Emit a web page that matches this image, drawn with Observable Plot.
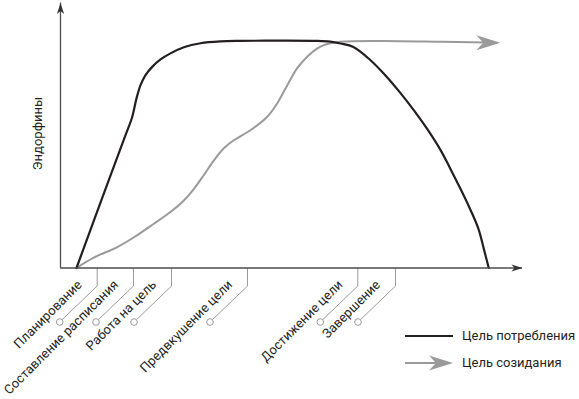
<!DOCTYPE html>
<html><head><meta charset="utf-8">
<script src="https://cdn.jsdelivr.net/npm/d3@7"></script>
<script src="https://cdn.jsdelivr.net/npm/@observablehq/plot@0.6"></script>
<style>
html,body{margin:0;padding:0;background:#fff;}
#wrap{position:relative;width:579px;height:399px;font-family:Roboto,sans-serif;}
.leg{position:absolute;left:405px;height:20px;line-height:20px;font-size:13px;color:#231f20;display:flex;align-items:center;white-space:nowrap;}
.leg svg{margin-right:9px;display:block;}
</style></head><body><div id="wrap"></div>
<script>
// Stage names along the time axis and their positions (0–100 time units)
const stageLabels = ["Планирование", "Составление расписания", "Работа на цель", "Предвкушение цели", "Достижение цели", "Завершение"];
const stageX = [7.94, 15.8, 24.03, 40.48, 64.35, 72.51];

// Series names
const seriesNames = ["Цель потребления", "Цель созидания"];
const yLabel = "Эндорфины";

// Consumption goal curve (black)
const consumptionX = [3.46, 9.37, 14.07, 15.52, 16.45, 17.32, 18.4, 19.85, 21.65, 23.8, 26.7, 30.3, 34.6, 39.0, 47.6, 55.6, 58.4, 60.6, 63.4, 67.1, 70.0, 73.6, 76.5, 79.4, 82.3, 84.4, 86.6, 88.7, 90.5, 91.6, 92.7];
const consumptionY = [0, 28.05, 50.1, 57.0, 64.0, 69.0, 72.8, 75.9, 78.7, 81.0, 83.3, 84.8, 85.5, 85.7, 85.8, 85.7, 85.4, 84.7, 83.4, 78.4, 73.3, 66.0, 59.5, 52.4, 44.4, 37.4, 29.8, 22.1, 14.6, 7.4, 0];

// Creation goal curve (gray, ends in an arrow)
const creationX = [3.46, 7.2, 12.3, 15.9, 20.2, 23.8, 26.7, 28.9, 31.0, 33.2, 35.3, 37.5, 41.1, 44.7, 46.9, 49.1, 51.2, 53.4, 55.6, 57.7, 60.6, 69.3, 82.3, 92.0];
const creationY = [0, 3.9, 7.9, 11.6, 16.7, 21.1, 25.5, 29.9, 35.0, 40.6, 45.1, 48.2, 52.0, 57.0, 62.1, 69.0, 75.3, 79.7, 82.9, 84.5, 85.4, 85.7, 85.4, 85.1];
const creationTipX = [95.2];
const creationTipY = [85.0];

const consumption = consumptionX.map((x, i) => ({x, y: consumptionY[i]}));
const creation = creationX.map((x, i) => ({x, y: creationY[i]}));
const creationTip = creationTipX.map((x, i) => ({x, y: creationTipY[i]}));
const stages = stageLabels.map((label, i) => ({label, x: stageX[i]}));
const axisTips = [{x: 100, y: 0, angle: 0}, {x: 0, y: 100, angle: -90}];

// Custom symbols (shapes only)
const axisArrow = {draw(ctx) { ctx.moveTo(0, 0); ctx.lineTo(-11, -3.6); ctx.lineTo(-8, 0); ctx.lineTo(-11, 3.6); ctx.closePath(); }};
const bigArrow = {draw(ctx) { ctx.moveTo(0, 0); ctx.lineTo(-24, -7.5); ctx.lineTo(-17, 0); ctx.lineTo(-24, 7.5); ctx.closePath(); }};
const leader = {draw(ctx) {
  const cx = -37.5, cy = 54, r = 3.3;
  ctx.moveTo(0, 0); ctx.lineTo(0, 18);
  const ang = Math.atan2(cy - 18, cx);
  ctx.lineTo(cx - r * Math.cos(ang), cy - r * Math.sin(ang));
  ctx.moveTo(cx + r, cy); ctx.arc(cx, cy, r, 0, 2 * Math.PI);
}};

const plot = Plot.plot({
  width: 579, height: 399,
  marginLeft: 60, marginRight: 57, marginTop: 2.5, marginBottom: 131.5,
  x: {domain: [0, 100], axis: null},
  y: {domain: [0, 100], axis: null},
  style: {fontFamily: "Roboto, sans-serif", fontSize: "13px", background: "#fff", overflow: "visible"},
  marks: [
    Plot.dot(stages, {x: "x", y: 0, symbol: leader, stroke: "#9a9a9a", strokeWidth: 1, fill: "none"}),
    Plot.text(stages, {x: "x", y: 0, text: "label", rotate: -45, textAnchor: "end", lineAnchor: "bottom", dx: -14.5, dy: 17.5, fontSize: 13, fill: "#231f20"}),
    Plot.text([yLabel], {frameAnchor: "left", text: d => d, rotate: -90, textAnchor: "middle", lineAnchor: "middle", dx: -23, dy: -2, fontSize: 13, fill: "#231f20"}),
    Plot.line(creation, {x: "x", y: "y", curve: "catmull-rom", stroke: "#9a9a9a", strokeWidth: 2}),
    Plot.dot(creationTip, {x: "x", y: "y", symbol: bigArrow, fill: "#9a9a9a", stroke: "none"}),
    Plot.line(consumption, {x: "x", y: "y", curve: "catmull-rom", stroke: "#231f20", strokeWidth: 2.2}),
    Plot.ruleY([0], {stroke: "#4d4d4d", strokeWidth: 1.3}),
    Plot.ruleX([0], {stroke: "#4d4d4d", strokeWidth: 1.3}),
    Plot.dot(axisTips, {x: "x", y: "y", rotate: "angle", symbol: axisArrow, fill: "#333", stroke: "none"})
  ]
});

const wrap = document.getElementById("wrap");
wrap.appendChild(plot);

const legendRows = [
  {name: seriesNames[0], top: 326, swatch: `<svg width="48" height="20"><line x1="0" x2="48" y1="10" y2="10" stroke="#231f20" stroke-width="2.2"/></svg>`},
  {name: seriesNames[1], top: 353, swatch: `<svg width="48" height="20"><line x1="0" x2="32" y1="10" y2="10" stroke="#9a9a9a" stroke-width="2"/><polygon points="48,10 24,2.5 31,10 24,17.5" fill="#9a9a9a"/></svg>`}
];
for (const row of legendRows) {
  const div = document.createElement("div");
  div.className = "leg";
  div.style.top = row.top + "px";
  div.innerHTML = row.swatch + `<span>${row.name}</span>`;
  wrap.appendChild(div);
}
</script>
</body></html>
